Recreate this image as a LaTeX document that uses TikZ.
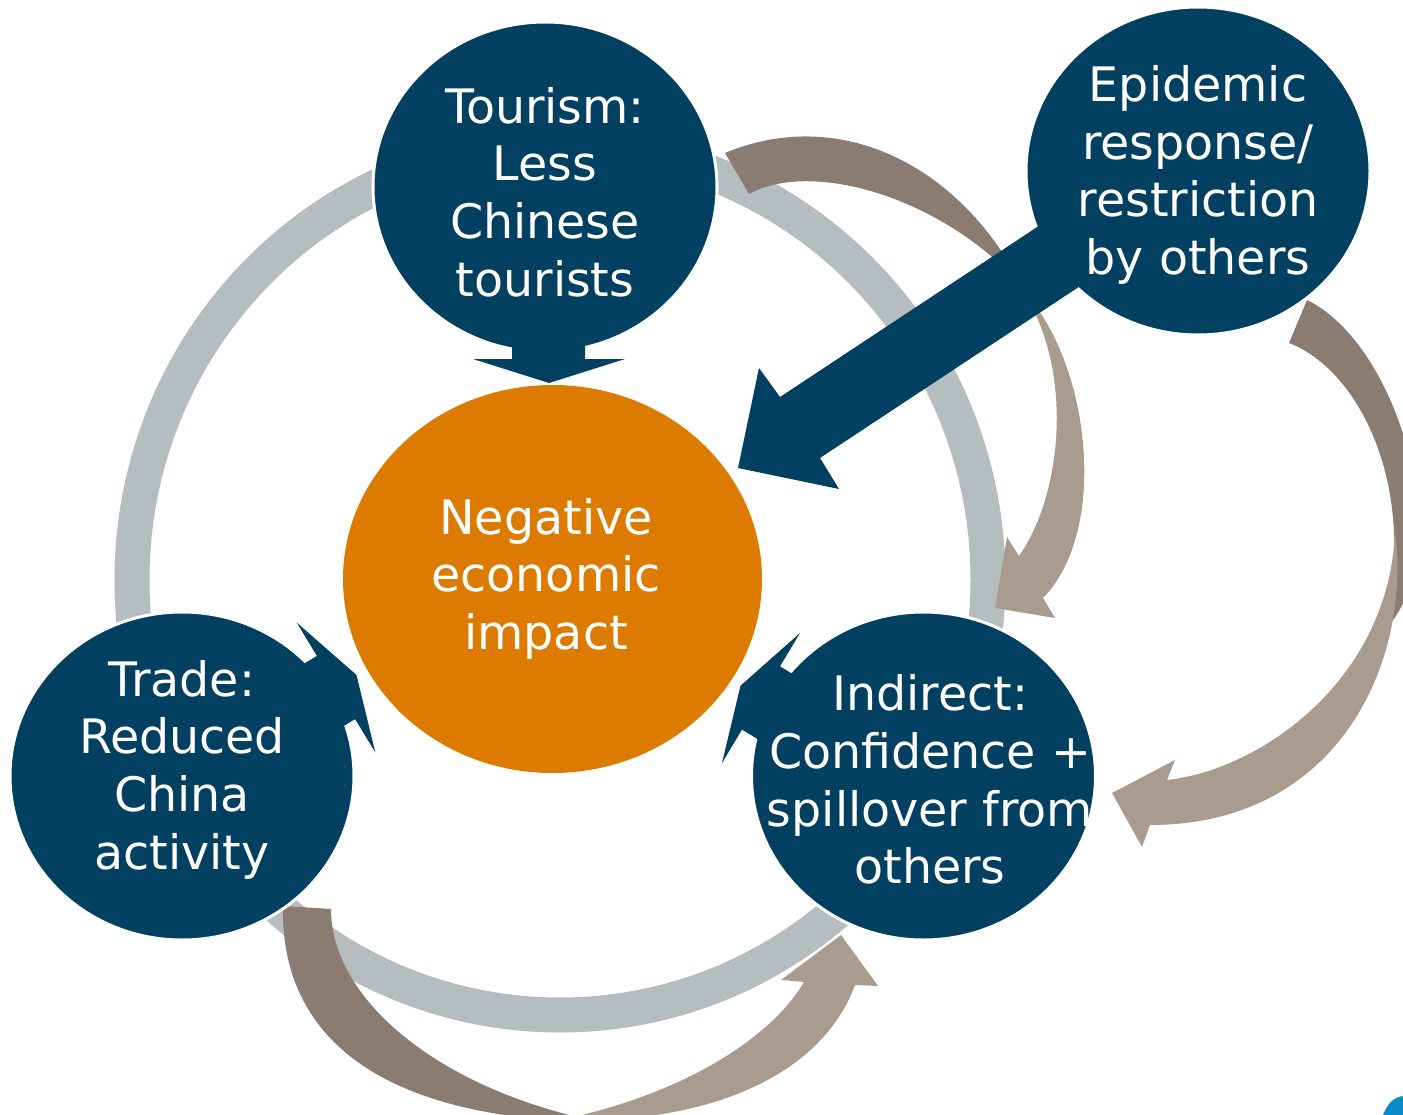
\documentclass[tikz,border=0pt]{standalone}
\usepackage{fontspec}
\setmainfont{DejaVu Sans}
\usetikzlibrary{shapes.geometric}
\definecolor{navy}{HTML}{024062}
\definecolor{orng}{HTML}{DD7A00}
\definecolor{ringgrey}{HTML}{B5BDBE}
\definecolor{brdark}{HTML}{8A7C71}
\definecolor{brlight}{HTML}{A99C8F}
\definecolor{logoblue}{HTML}{0A8BC8}
\begin{document}
\begin{tikzpicture}[x=1pt,y=-1pt,
  bubble/.style={ellipse, fill=navy, draw=white, line width=3pt, inner sep=0pt,
                 minimum width=344pt, minimum height=328pt},
  hub/.style={ellipse, fill=orng, inner sep=0pt, minimum width=419pt, minimum height=388pt},
  txt/.style={text=white, align=center, inner sep=0pt, font=\fontsize{47.5}{57.6}\selectfont},
  ring/.style={draw=ringgrey, line width=35pt},
  backpart/.style={fill=brdark},
  frontpart/.style={fill=brlight},
  block/.style={fill=navy}]
\useasboundingbox (0,0) rectangle (1403,1115);
\clip (0,0) rectangle (1403,1115);

% grey cycle ring
\draw[ring] (560,580) ellipse [x radius=428pt, y radius=435pt];

% brown curved arrow A (tourism -> indirect)
\fill[backpart] (725,153) .. controls (840,105) and (960,165) .. (1022,286)
  .. controls (940,195) and (810,160) .. (749,194) -- cycle;
\fill[frontpart] (1022,290) .. controls (1090,360) and (1110,530) .. (1043,598)
  -- (1055,618) -- (995,608) -- (1007,537) -- (1019,556)
  .. controls (1062,495) and (1075,370) .. (1022,290) -- cycle;

% brown curved arrow B (epidemic -> indirect)
\fill[backpart] (1307,300) .. controls (1400,345) and (1460,555) .. (1383,632)
  .. controls (1420,490) and (1360,370) .. (1289,343) -- cycle;
\fill[frontpart] (1395,530) .. controls (1412,660) and (1340,825) .. (1150,825)
  -- (1142,847) -- (1112,793) -- (1175,760) -- (1167,780)
  .. controls (1260,770) and (1390,680) .. (1395,530) -- cycle;

% brown curved arrow C (trade -> indirect)
\fill[backpart] (283,906) .. controls (280,1050) and (400,1120) .. (600,1122)
  .. controls (440,1090) and (331,1000) .. (331,909) -- cycle;
\fill[frontpart] (560,1120) .. controls (700,1125) and (820,1080) .. (855,985)
  -- (878,986) -- (841,935) -- (781,980) -- (804,982)
  .. controls (770,1040) and (680,1095) .. (560,1120) -- cycle;

% circles
\node[bubble, minimum height=330pt] (tour) at (545,187) {};
\node[bubble] (epid) at (1198,171) {};
\node[bubble] (trade) at (182,776) {};
\node[bubble] (indir) at (923.5,776) {};
\node[hub] (neg) at (552.5,579) {};

% block arrows into the centre
\fill[block] (512,300) -- (512,359) -- (473,359) -- (549,383) -- (625,359) -- (585,359) -- (585,300) -- cycle;
\fill[block] (265.7,686.9) -- (316.9,655.9) -- (296.7,622.6) -- (356.5,675) -- (375.3,752.4) -- (355.1,719.1) -- (303.9,750.1) -- cycle;
\fill[block] (831.3,697.2) -- (780,666.4) -- (800,633) -- (740.5,685.7) -- (722,763) -- (742,729.6) -- (793.3,760.4) -- cycle;
\fill[block] (1072,204) -- (780,397) -- (759,368) -- (738,468) -- (839,489) -- (820,458) -- (1112,265) -- cycle;

% small logo fragment
\fill[logoblue] (1383,1115) .. controls (1388,1102) and (1395,1097) .. (1403,1096) -- (1403,1115) -- cycle;

% texts
\node[txt] (tourtxt) at (545,192) {Tourism:\\Less\\Chinese\\tourists};
\node[txt] (epidtxt) at (1198,175) {Epidemic\\response/\\restriction\\by others};
\node[txt] (negtxt) at (546,578.5) {Negative\\economic\\impact};
\node[txt] (tradetxt) at (182,769.5) {Trade:\\Reduced\\China\\activity};
\node[txt] (indirtxt) at (930,779.5) {Indirect:\\Confidence +\\spillover from\\others};
\end{tikzpicture}
\end{document}
